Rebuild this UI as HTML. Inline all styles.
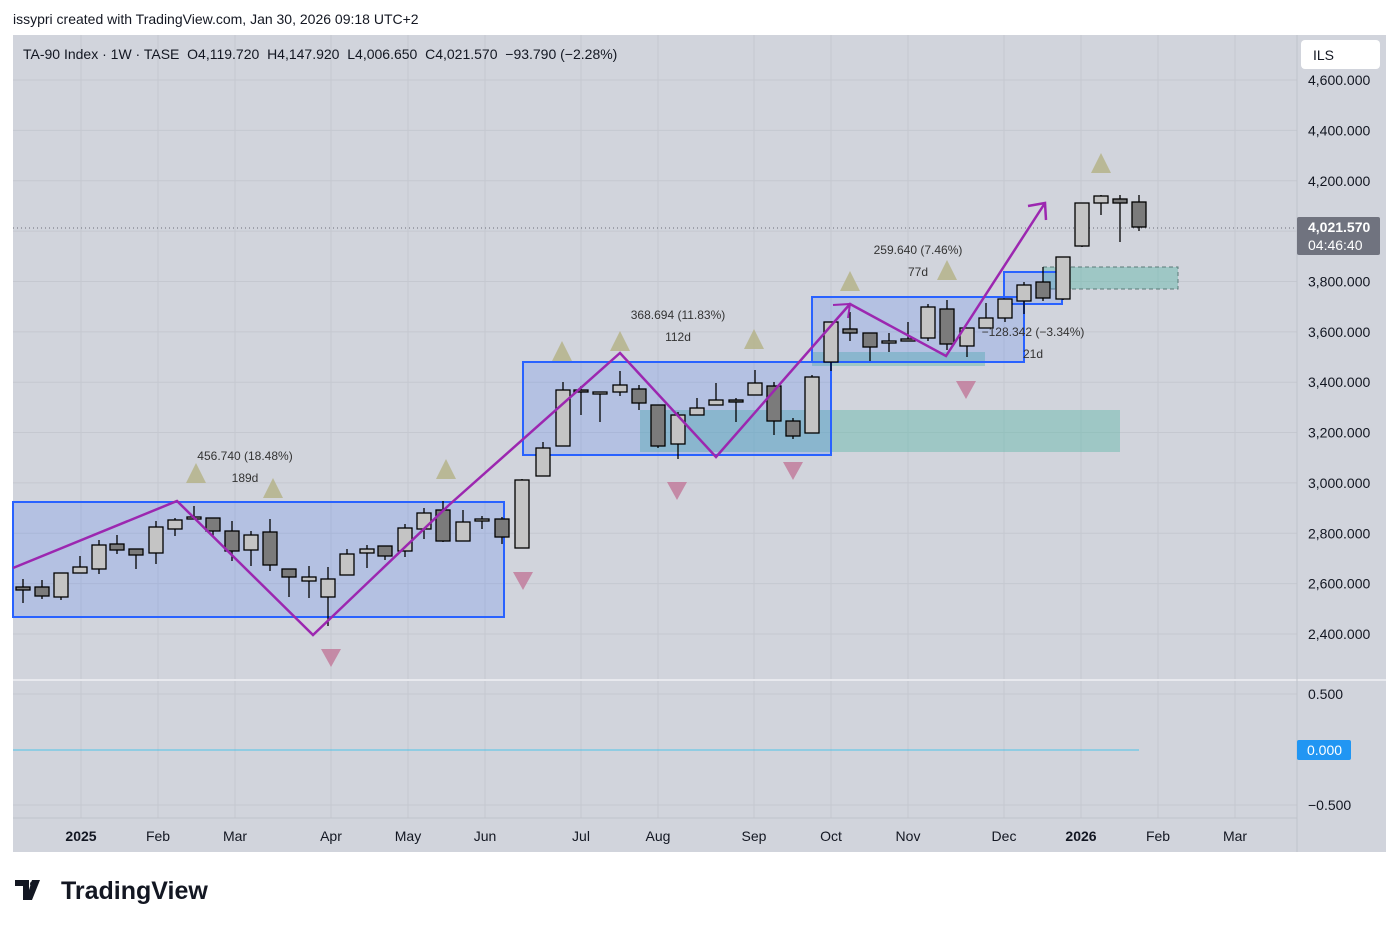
<!DOCTYPE html>
<html><head><meta charset="utf-8"><style>
body{margin:0;background:#fff;width:1399px;height:928px;overflow:hidden;font-family:"Liberation Sans",sans-serif}
</style></head><body>
<svg id="s" width="1399" height="928" xmlns="http://www.w3.org/2000/svg" font-family="Liberation Sans, sans-serif">
<text x="13" y="24" font-size="14" fill="#131722">issypri created with TradingView.com, Jan 30, 2026 09:18 UTC+2</text>
<rect x="13" y="35" width="1373" height="817" fill="#d1d4dc"/>
<g id="grid" stroke="#c5c8d0" stroke-width="1"></g>
<line x1="13" y1="680" x2="1386" y2="680" stroke="#e8e9ee" stroke-width="2"/>
<line x1="1297" y1="35" x2="1297" y2="852" stroke="#c0c3cb"/>
<line x1="13" y1="818" x2="1297" y2="818" stroke="#c0c3cb"/>
<rect x="640" y="410" width="480" height="42" fill="#5fb8a8" fill-opacity="0.45"/>
<rect x="812" y="352" width="173" height="14" fill="#5fb8a8" fill-opacity="0.45"/>
<rect x="1043" y="267" width="135" height="22" fill="#5fb8a8" fill-opacity="0.45" stroke="#5a7a78" stroke-dasharray="4,3"/>
<rect x="13" y="502" width="491" height="115" fill="#2962ff" fill-opacity="0.17" stroke="#2962ff" stroke-width="2"/>
<rect x="523" y="362" width="308" height="93" fill="#2962ff" fill-opacity="0.17" stroke="#2962ff" stroke-width="2"/>
<rect x="812" y="297" width="212" height="65" fill="#2962ff" fill-opacity="0.17" stroke="#2962ff" stroke-width="2"/>
<rect x="1004" y="272" width="58" height="32" fill="#2962ff" fill-opacity="0.17" stroke="#2962ff" stroke-width="2"/>
<line x1="13" y1="228" x2="1297" y2="228" stroke="#6a6d78" stroke-dasharray="1,3"/>
<g id="tri"></g>
<g id="c"></g>
<polyline points="13,568 177,501 313,635 449,505 620,353 716,457 850,304 946,356 1045,203" fill="none" stroke="#9c27b0" stroke-width="2.5"/>
<polyline points="1028,206 1045,203 1046,220" fill="none" stroke="#9c27b0" stroke-width="2.5"/>
<polyline points="833,305 850,304 848,318" fill="none" stroke="#9c27b0" stroke-width="2"/>
<g font-size="12" fill="#333" text-anchor="middle">
<text x="245" y="460">456.740 (18.48%)</text><text x="245" y="482">189d</text>
<text x="678" y="319">368.694 (11.83%)</text><text x="678" y="341">112d</text>
<text x="918" y="254">259.640 (7.46%)</text><text x="918" y="276">77d</text>
<text x="1033" y="336">−128.342 (−3.34%)</text><text x="1033" y="358">21d</text>
</g>
<text x="23" y="59" font-size="14" fill="#131722" style="white-space:pre">TA-90 Index · 1W · TASE  O4,119.720  H4,147.920  L4,006.650  C4,021.570  −93.790 (−2.28%)</text>
<line x1="13" y1="750" x2="1139" y2="750" stroke="#4fc3e8" stroke-width="1"/>
<g id="ax" font-size="14" fill="#131722"></g>
<rect x="1301" y="40" width="79" height="29" rx="4" fill="#fff"/>
<text x="1313" y="60" font-size="14" fill="#131722">ILS</text>
<rect x="1297" y="217" width="83" height="38" rx="2" fill="#70737f"/>
<text x="1308" y="232" font-size="14" font-weight="bold" fill="#fff">4,021.570</text>
<text x="1308" y="250" font-size="14" fill="#fff">04:46:40</text>
<rect x="1297" y="740" width="54" height="20" rx="2" fill="#2196f3"/>
<text x="1307" y="755" font-size="14" fill="#fff">0.000</text>
<path d="M15 880 h14 v20 h-6 v-14 h-8z M32 880 h8 l-8 20 h-6z" fill="#131722"/>
<circle cx="33" cy="884" r="3" fill="#131722"/>
<text x="61" y="899" font-size="25" font-weight="bold" fill="#131722">TradingView</text>
</svg>
<script>
const s='http://www.w3.org/2000/svg';
function el(p,t,a,txt){const e=document.createElementNS(s,t);for(const k in a)e.setAttribute(k,a[k]);if(txt)e.textContent=txt;document.getElementById(p).appendChild(e);}
const C=[[23,587,590,579,603,0],[42,587,596,580,599,0],[61,573,597,573,600,1],[80,567,573,556,573,1],[99,545,569,540,574,1],[117,544,550,535,554,0],[136,549,555,549,569,0],[156,527,553,521,564,1],[175,520,529,518,536,1],[194,517,519,506,519,1],[213,518,531,518,536,0],[232,531,551,521,561,0],[251,535,550,531,566,1],[270,532,565,519,571,0],[289,569,577,569,597,0],[309,577,581,566,598,1],[328,579,597,567,626,1],[347,554,575,549,575,1],[367,549,553,545,568,1],[385,546,556,546,560,0],[405,528,551,524,557,1],[424,513,529,508,539,1],[443,510,541,501,542,0],[463,522,541,510,541,1],[482,519,521,516,529,1],[502,519,537,517,544,0],[522,480,548,479,548,1],[543,448,476,442,476,1],[563,390,446,382,446,1],[581,390,392,386,415,0],[600,392,394,392,422,1],[620,385,392,371,396,1],[639,389,403,385,410,0],[658,405,446,405,448,0],[678,415,444,412,459,1],[697,408,415,398,415,1],[716,400,405,383,405,1],[736,400,402,398,422,0],[755,383,395,370,395,1],[774,386,421,382,435,0],[793,421,436,418,439,0],[812,377,433,375,433,1],[831,322,362,322,371,1],[850,329,333,312,341,0],[870,333,347,333,361,0],[889,341,343,333,352,1],[908,339,341,322,341,1],[928,307,338,304,341,1],[947,309,344,300,350,0],[967,328,346,328,357,1],[986,318,328,303,328,1],[1005,299,318,299,322,1],[1024,285,301,282,314,1],[1043,282,298,267,301,0],[1063,257,299,257,300,1],[1082,203,246,203,247,1],[1101,196,203,195,215,1],[1120,199,203,195,242,0],[1139,202,227,195,231,0]];
C.forEach(c=>{el('c','line',{x1:c[0],x2:c[0],y1:c[3],y2:c[4],stroke:'#000','stroke-width':1.3});el('c','rect',{x:c[0]-7,y:c[1],width:14,height:Math.max(c[2]-c[1],2),fill:c[5]?'#c4c4c4':'#7b7b7b',stroke:'#000','stroke-width':1.3});});
[[196,473],[273,488],[446,469],[562,351],[620,341],[754,339],[850,281],[947,270],[1101,163]].forEach(p=>el('tri','polygon',{points:`${p[0]-10},${p[1]+10} ${p[0]+10},${p[1]+10} ${p[0]},${p[1]-10}`,fill:'#b5b38a','fill-opacity':0.85}));
[[331,658],[523,581],[677,491],[793,471],[966,390]].forEach(p=>el('tri','polygon',{points:`${p[0]-10},${p[1]-9} ${p[0]+10},${p[1]-9} ${p[0]},${p[1]+9}`,fill:'#c27c9c','fill-opacity':0.85}));
const M=[[81,'2025',1],[158,'Feb'],[235,'Mar'],[331,'Apr'],[408,'May'],[485,'Jun'],[581,'Jul'],[658,'Aug'],[754,'Sep'],[831,'Oct'],[908,'Nov'],[1004,'Dec'],[1081,'2026',1],[1158,'Feb'],[1235,'Mar']];
M.forEach(m=>{el('grid','line',{x1:m[0],x2:m[0],y1:35,y2:818});const a={x:m[0],y:841,'text-anchor':'middle'};if(m[2])a['font-weight']='bold';el('ax','text',a,m[1]);});
for(let p=2400;p<=4600;p+=200){const y=634-(p-2400)*0.2518;el('grid','line',{x1:13,x2:1297,y1:y,y2:y});el('ax','text',{x:1308,y:y+5},p.toLocaleString('en-US')+'.000');}
[[694,'0.500'],[805,'−0.500']].forEach(l=>{el('grid','line',{x1:13,x2:1297,y1:l[0],y2:l[0]});el('ax','text',{x:1308,y:l[0]+5},l[1]);});
</script>
</body></html>
